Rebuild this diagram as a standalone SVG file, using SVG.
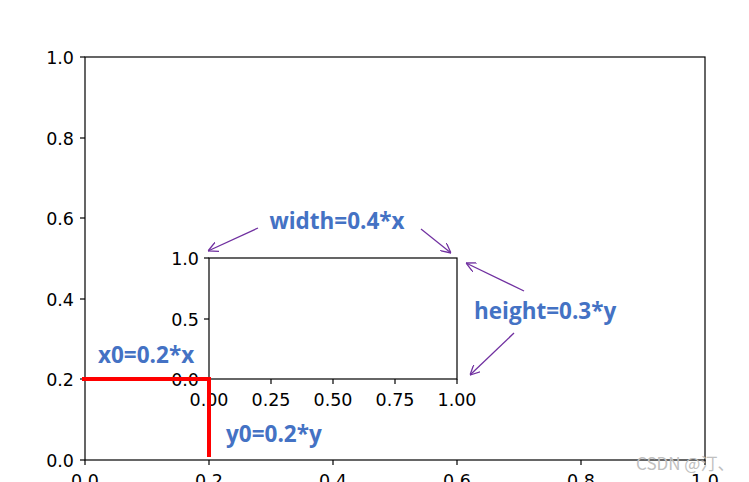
<svg xmlns="http://www.w3.org/2000/svg" width="749" height="482" viewBox="0 0 749 482">
<defs>
<style>
.ax{fill:none;stroke:#000;stroke-width:1.2}
.tk{stroke:#000;stroke-width:1.2}
.tl{font-family:"DejaVu Sans",sans-serif;font-size:17.5px;fill:#000}
.lb{font-family:"Open Sans","Noto Sans",sans-serif;font-weight:bold;font-size:22.5px;fill:#4472C4}
.ar{stroke:#7030A0;stroke-width:1.3;fill:none}
.wm{font-family:"Noto Sans CJK SC",sans-serif;font-size:17px;fill:#c0c0c0}
</style>
<marker id="ah" viewBox="0 0 10 10" refX="10" refY="5" markerWidth="10" markerHeight="10" orient="auto" markerUnits="userSpaceOnUse">
<path d="M0,0 L10,5 L0,10" fill="none" stroke="#7030A0" stroke-width="1.3"/>
</marker>
</defs>
<rect width="749" height="482" fill="#fff"/>
<g id="outer-axes">
<rect class="ax" x="85" y="57" width="620" height="403"/>
<g class="tk">
<line x1="80" y1="57" x2="85" y2="57"/><line x1="80" y1="138" x2="85" y2="138"/><line x1="80" y1="218" x2="85" y2="218"/><line x1="80" y1="299" x2="85" y2="299"/><line x1="80" y1="379" x2="85" y2="379"/><line x1="80" y1="460" x2="85" y2="460"/>
<line x1="85" y1="460" x2="85" y2="465"/><line x1="209" y1="460" x2="209" y2="465"/><line x1="333" y1="460" x2="333" y2="465"/><line x1="457" y1="460" x2="457" y2="465"/><line x1="581" y1="460" x2="581" y2="465"/><line x1="705" y1="460" x2="705" y2="465"/>
</g>
<g class="tl" text-anchor="end">
<text x="74" y="64">1.0</text><text x="74" y="145">0.8</text><text x="74" y="225">0.6</text><text x="74" y="306">0.4</text><text x="74" y="386">0.2</text><text x="74" y="467">0.0</text>
</g>
<g class="tl" text-anchor="middle">
<text x="85" y="487">0.0</text><text x="209" y="487">0.2</text><text x="333" y="487">0.4</text><text x="457" y="487">0.6</text><text x="581" y="487">0.8</text><text x="705" y="487">1.0</text>
</g>
</g>
<g id="inner-axes">
<rect class="ax" x="209" y="258" width="248" height="121" fill="#fff"/>
<g class="tk">
<line x1="204" y1="258" x2="209" y2="258"/><line x1="204" y1="319" x2="209" y2="319"/><line x1="204" y1="379" x2="209" y2="379"/>
<line x1="209" y1="379" x2="209" y2="384"/><line x1="271" y1="379" x2="271" y2="384"/><line x1="333" y1="379" x2="333" y2="384"/><line x1="395" y1="379" x2="395" y2="384"/><line x1="457" y1="379" x2="457" y2="384"/>
</g>
<g class="tl" text-anchor="end">
<text x="199" y="265">1.0</text><text x="199" y="326">0.5</text><text x="199" y="386">0.0</text>
</g>
<g class="tl" text-anchor="middle">
<text x="209" y="406">0.00</text><text x="271" y="406">0.25</text><text x="333" y="406">0.50</text><text x="395" y="406">0.75</text><text x="457" y="406">1.00</text>
</g>
</g>
<g id="red-offsets" stroke="#ff0000" stroke-width="4" fill="none">
<polyline points="82,379 209,379 209,457"/>
</g>
<g id="connectors">
<line class="ar" x1="258" y1="228" x2="208" y2="251" marker-end="url(#ah)"/>
<line class="ar" x1="421" y1="229" x2="451" y2="253" marker-end="url(#ah)"/>
<line class="ar" x1="524" y1="291" x2="466" y2="263" marker-end="url(#ah)"/>
<line class="ar" x1="514" y1="333" x2="470" y2="375" marker-end="url(#ah)"/>
</g>
<g id="labels">
<text class="lb" x="337" y="229" text-anchor="middle">width=0.4*x</text>
<text class="lb" x="474" y="319">height=0.3*y</text>
<text class="lb" x="98" y="363">x0=0.2*x</text>
<text class="lb" x="226" y="442">y0=0.2*y</text>
</g>
<text class="wm" x="636" y="470">CSDN @汀、</text>
</svg>
